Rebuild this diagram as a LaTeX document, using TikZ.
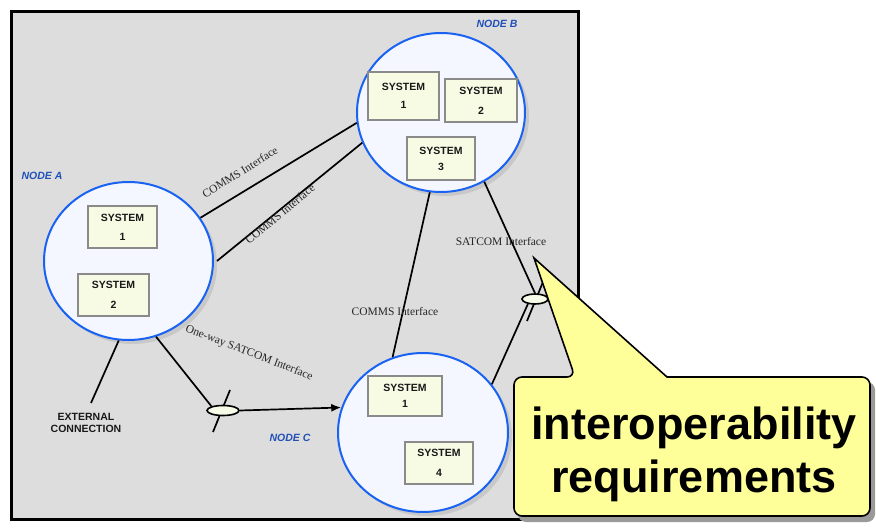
\documentclass[tikz,border=0pt]{standalone}
\usepackage{fontspec}
\setmainfont{Liberation Sans}
\newfontfamily\serifl{Liberation Serif}
\usetikzlibrary{shapes.geometric,arrows.meta,calc,shadows}
\definecolor{bggray}{HTML}{DDDDDD}
\definecolor{circfill}{HTML}{F4F7FF}
\definecolor{nodeblue}{HTML}{1A62F2}
\definecolor{labelblue}{HTML}{1F50B8}
\definecolor{sysfill}{HTML}{F7FBE4}
\definecolor{sysborder}{HTML}{8A8A8A}
\definecolor{lensfill}{HTML}{F5FBE6}
\definecolor{shadowgray}{HTML}{C8C8C8}
\definecolor{calloutfill}{HTML}{FFFF99}
\definecolor{calloutshadow}{HTML}{9A9A9A}
\definecolor{labelgray}{HTML}{262626}
\begin{document}
\begin{tikzpicture}[x=1pt,y=-1pt,
  nodecirc/.style={ellipse, draw=nodeblue, line width=2pt, fill=circfill, inner sep=0pt,
    drop shadow={shadow xshift=4pt, shadow yshift=-4pt, fill=shadowgray, opacity=1}},
  sysbox/.style={rectangle, draw=sysborder, line width=1.5pt, fill=sysfill, inner sep=0pt,
    align=center, font=\fontsize{10.5}{12}\selectfont\bfseries, text=black!90},
  nodelabel/.style={font=\fontsize{10.5}{12}\selectfont\bfseries\itshape, text=labelblue},
  lens/.style={ellipse, draw=black, line width=1.6pt, fill=lensfill, inner sep=0pt, minimum height=10pt},
  conn/.style={draw=black, line width=1.7pt},
  iflabel/.style={font=\serifl\fontsize{11.5}{13}\selectfont, text=labelgray, inner sep=0pt},
  extlabel/.style={font=\fontsize{10.5}{12}\selectfont\bfseries, text=black!90, align=center, inner sep=0pt},
  calloutbox/.style={draw=black, line width=1.6pt, fill=calloutfill},
  callouttext/.style={font=\fontsize{45}{53}\selectfont\bfseries, text=black, align=center, inner sep=0pt}
]
\useasboundingbox (0,0) rectangle (876,529);
% frame
\draw[line width=3.5pt, fill=bggray] (11.5,11.5) rectangle (578.5,519.5);

% node circles
\node[nodecirc, minimum width=169pt, minimum height=158pt] (nodeA) at (128.5,261) {};
\node[nodecirc, minimum width=168pt, minimum height=159pt] (nodeB) at (441,112.5) {};
\node[nodecirc, minimum width=170pt, minimum height=159pt] (nodeC) at (423,432.5) {};

% node labels
\node[nodelabel] (labA) at (42,176) {NODE A};
\node[nodelabel] (labB) at (497,24) {NODE B};
\node[nodelabel] (labC) at (290,438) {NODE C};

% systems
\node[sysbox, minimum width=71pt, minimum height=48pt] (b1) at (403.5,96) {SYSTEM\\[6pt]1};
\node[sysbox, minimum width=72pt, minimum height=43pt] (b2) at (481,100.5) {SYSTEM\\[8pt]2};
\node[sysbox, minimum width=68pt, minimum height=43pt] (b3) at (441,158.5) {SYSTEM\\[4pt]3};
\node[sysbox, minimum width=69pt, minimum height=42pt] (a1) at (122.5,227) {SYSTEM\\[7pt]1};
\node[sysbox, minimum width=71pt, minimum height=42pt] (a2) at (113.5,295) {SYSTEM\\[8pt]2};
\node[sysbox, minimum width=74pt, minimum height=40pt] (c1) at (405,396) {SYSTEM\\[4pt]1};
\node[sysbox, minimum width=68pt, minimum height=42pt] (c4) at (439,463) {SYSTEM\\[8pt]4};

% lenses with slashes
\coordinate (lensLpos) at (223,410.5);
\coordinate (lensRpos) at (535,299);
\draw[conn] ($(lensLpos)+(7,-20.5)$) -- ($(lensLpos)+(-10,21.5)$);
\draw[conn] ($(lensRpos)+(-8,22)$) -- ($(lensRpos)+(10,-22)$);
\node[lens, minimum width=32pt] (lensL) at (lensLpos) {};
\node[lens, minimum width=26pt] (lensR) at (lensRpos) {};

% connectors
\draw[conn] (nodeA.31) -- (nodeB.187);
\draw[conn] ([xshift=3pt]nodeA.0) -- (nodeB.201);
\draw[conn] (nodeB.262) -- (nodeC.112);
\draw[conn] (nodeB.302) -- (lensR.north);
\draw[conn] (lensR.215) -- (nodeC.35);
\draw[conn] (nodeA.290) -- (lensL.160);
\draw[conn, -{Latex[length=10pt,width=8pt]}] (lensL.east) -- (nodeC.163);
\coordinate (ext) at (91,403);
\draw[conn] (nodeA.263) -- (ext);

% connector labels
\node[iflabel, rotate=32] (l1) at (240,172) {COMMS Interface};
\node[iflabel, rotate=40] (l2) at (280,214) {COMMS Interface};
\node[iflabel] (l3) at (395,312) {COMMS Interface};
\node[iflabel] (l4) at (501,242) {SATCOM Interface};
\node[iflabel, rotate=-21] (l5) at (249,353) {One-way SATCOM Interface};
\node[extlabel] (extlab) at (86,423) {EXTERNAL\\CONNECTION};

% callout
\fill[calloutshadow] (579,382) -- (538,263) -- (671,382) [rounded corners=8pt] -- (875,382) -- (875,522) -- (518,522) -- (518,382) -- cycle;
\draw[calloutbox] (575,377) -- (534,258) -- (667,377) [rounded corners=8pt] -- (870,377) -- (870,516) -- (514,516) -- (514,377) -- cycle;
\node[callouttext] (callout) at (694,454) {interoperability\\requirements};
\end{tikzpicture}
\end{document}
